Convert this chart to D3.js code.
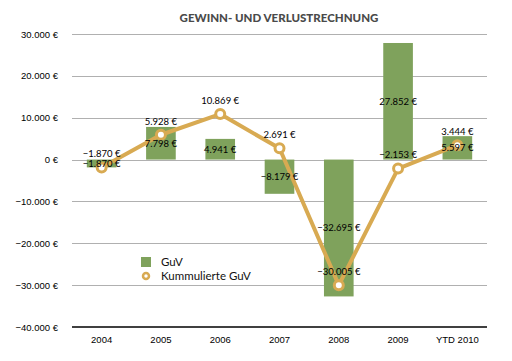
<!DOCTYPE html>
<html>
<head>
<meta charset="utf-8">
<script src="https://cdn.jsdelivr.net/npm/d3@7"></script>
<style>
  body { margin: 0; background: #fff; }
  svg { font-family: Lato, "Open Sans", sans-serif; }
  .grid line { stroke: #b0b0b0; stroke-width: 1; }
  .axis text { font-size: 9.5px; fill: #000; }
  .lbl { font-size: 9.5px; fill: #000; }
</style>
</head>
<body>
<svg></svg>
<script>
var categories = ["2004", "2005", "2006", "2007", "2008", "2009", "YTD 2010"];
var guv = [-1870, 7798, 4941, -8179, -32695, 27852, 5597];
var kumuliert = [-1870, 5928, 10869, 2691, -30005, -2153, 3444];
var yTicks = [-40000, -30000, -20000, -10000, 0, 10000, 20000, 30000];

var margin = {top: 34, right: 25, bottom: 34, left: 72},
    width = 512 - margin.left - margin.right,
    height = 361 - margin.top - margin.bottom;

var fmt = d3.formatLocale({decimal: ",", thousands: ".", grouping: [3], currency: ["", " €"]}).format(",.0f");
function euro(v) { return fmt(v) + " €"; }

var x = d3.scaleBand().domain(categories).range([0, width]).paddingInner(0.5).paddingOuter(0.25);
var xc = function(d) { return x(d) + x.bandwidth() / 2; };
var y = d3.scaleLinear().domain([-40000, 30000]).range([height, 0]);

var svg = d3.select("svg").attr("width", 512).attr("height", 361);

svg.append("text")
    .attr("x", 279).attr("y", 22)
    .attr("text-anchor", "middle")
    .style("font-size", "11.5px").style("font-weight", "900").style("fill", "#4a4a4a")
    .text("GEWINN- UND VERLUSTRECHNUNG");

var g = svg.append("g")
    .attr("transform", "translate(" + margin.left + "," + margin.top + ")");

g.append("g").attr("class", "grid")
    .selectAll("line").data(yTicks.slice(1)).enter().append("line")
    .attr("x1", 0).attr("x2", width)
    .attr("y1", function(d) { return Math.round(y(d)) + 0.5; })
    .attr("y2", function(d) { return Math.round(y(d)) + 0.5; });

var yAxis = d3.axisLeft(y).tickValues(yTicks).tickSize(0).tickPadding(14).tickFormat(euro);
g.append("g").attr("class", "axis").call(yAxis).call(function(s) { s.select(".domain").remove(); });

g.selectAll(".bar").data(categories).enter().append("rect")
    .attr("class", "bar")
    .attr("x", function(d) { return x(d); })
    .attr("width", x.bandwidth())
    .attr("y", function(d, i) { return y(Math.max(0, guv[i])); })
    .attr("height", function(d, i) { return Math.abs(y(guv[i]) - y(0)); })
    .style("fill", "#7fa25c");

var xAxis = d3.axisBottom(x).tickSize(0).tickPadding(9);
g.append("g").attr("class", "axis")
    .attr("transform", "translate(0," + height + ")")
    .call(xAxis)
    .call(function(s) { s.select(".domain").attr("stroke", "#000").attr("stroke-width", 1.5).attr("d", "M0,0H" + width); });

var line = d3.line()
    .x(function(d, i) { return xc(categories[i]); })
    .y(function(d) { return y(d); });

g.append("path")
    .attr("d", line(kumuliert))
    .style("fill", "none").style("stroke", "#d8aa52").style("stroke-width", 4)
    .style("stroke-linejoin", "round");

g.selectAll(".pt").data(kumuliert).enter().append("circle")
    .attr("cx", function(d, i) { return xc(categories[i]); })
    .attr("cy", function(d) { return y(d); })
    .attr("r", 4.5)
    .style("fill", "#fff").style("stroke", "#d8aa52").style("stroke-width", 3);

g.selectAll(".barlbl").data(guv).enter().append("text")
    .attr("class", "lbl")
    .attr("x", function(d, i) { return xc(categories[i]); })
    .attr("y", function(d) { return (y(d) + y(0)) / 2; })
    .attr("dy", "0.35em")
    .attr("text-anchor", "middle")
    .text(euro);

g.selectAll(".linelbl").data(kumuliert).enter().append("text")
    .attr("class", "lbl")
    .attr("x", function(d, i) { return xc(categories[i]); })
    .attr("y", function(d) { return y(d) - 13.5; })
    .attr("dy", "0.35em")
    .attr("text-anchor", "middle")
    .text(euro);

// legend
var lg = svg.append("g").attr("transform", "translate(141,257)");
lg.append("rect").attr("width", 10).attr("height", 10).style("fill", "#7fa25c");
lg.append("text").attr("x", 20).attr("y", 5).attr("dy", "0.35em").style("font-size", "11.5px").style("fill", "#111").text("GuV");
lg.append("circle").attr("cx", 5).attr("cy", 19).attr("r", 3)
    .style("fill", "#fff").style("stroke", "#d8aa52").style("stroke-width", 2.5);
lg.append("text").attr("x", 20).attr("y", 19).attr("dy", "0.35em").style("font-size", "11.5px").style("fill", "#111").text("Kummulierte GuV");
</script>
</body>
</html>
